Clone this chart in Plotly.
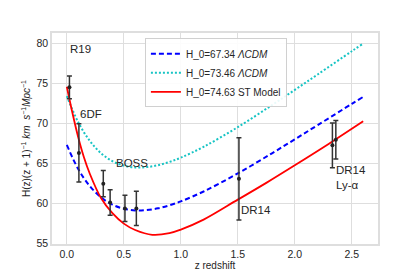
import plotly.graph_objects as go

# model curves
z_lcdm = [0.0, 0.1, 0.2, 0.3, 0.4, 0.5, 0.6, 0.7, 0.8, 0.9, 1.0, 1.2, 1.5, 1.8, 2.0, 2.2, 2.5, 2.6]
h_lcdm_67 = [67.34, 64.33, 62.22, 60.79, 59.87, 59.36, 59.15, 59.19, 59.41, 59.79, 60.28,
             61.52, 63.78, 66.30, 68.05, 69.82, 72.48, 73.36]
h_lcdm_73 = [73.46, 70.18, 67.88, 66.31, 65.31, 64.76, 64.53, 64.57, 64.81, 65.22, 65.75,
             67.11, 69.57, 72.33, 74.23, 76.16, 79.07, 80.03]

z_st = [0.0, 0.05, 0.1, 0.15, 0.2, 0.3, 0.4, 0.5, 0.6, 0.75, 0.9, 1.0, 1.2, 1.5, 1.75, 2.0, 2.3, 2.6]
h_st = [74.63, 71.3, 68.3, 65.8, 63.8, 60.7, 58.8, 57.5, 56.7, 56.1, 56.3, 56.75, 58.0,
        60.5, 62.6, 64.8, 67.5, 70.3]

# observational data
z_obs = [0.023, 0.106, 0.32, 0.38, 0.51, 0.61, 1.51, 2.33, 2.36]
h_obs = [74.55, 66.35, 62.5, 60.15, 59.4, 59.4, 63.1, 67.3, 68.0]
h_err = [1.42, 3.65, 1.65, 1.6, 1.65, 2.15, 5.15, 2.8, 2.4]

labels = ["R19", "6DF", "BOSS", "DR14", "DR14<br>Ly-α"]
label_x = [0.023, 0.103, 0.42, 1.52, 2.357]
label_y = [79.4, 71.2, 65.1, 59.2, 63.3]

FONT = "Liberation Sans, Arial, sans-serif"
TXT = "#262626"
GRID = "#dedede"

fig = go.Figure()
fig.add_trace(go.Scatter(x=z_lcdm, y=h_lcdm_67, mode="lines", line_shape="spline",
                         line=dict(color="#0000ff", width=2, dash="5px,3px"),
                         name="H_0=67.34 <i>ΛCDM</i>"))
fig.add_trace(go.Scatter(x=z_lcdm, y=h_lcdm_73, mode="lines", line_shape="spline",
                         line=dict(color="#17c4c4", width=2, dash="2px,2px"),
                         name="H_0=73.46 <i>ΛCDM</i>"))
fig.add_trace(go.Scatter(x=z_st, y=h_st, mode="lines", line_shape="spline",
                         line=dict(color="#ff0000", width=1.8),
                         name="H_0=74.63 ST Model"))
fig.add_trace(go.Scatter(x=z_obs, y=h_obs, mode="markers",
                         marker=dict(color="#222222", size=4),
                         error_y=dict(type="data", array=h_err, color="#333333",
                                      thickness=1.5, width=2.5),
                         showlegend=False))

for t, x, y in zip(labels, label_x, label_y):
    fig.add_annotation(x=x, y=y, text=t, showarrow=False, xanchor="left",
                       yanchor="middle", align="left", borderpad=0,
                       font=dict(family=FONT, size=11.5, color=TXT))

axis_common = dict(showgrid=True, gridcolor=GRID, gridwidth=1.2, zeroline=False,
                   showline=True, linecolor=GRID, linewidth=1.5, mirror=True,
                   ticks="", automargin=False,
                   tickfont=dict(family=FONT, size=10.5, color=TXT))

fig.update_xaxes(range=[-0.13, 2.73], tickvals=[0, 0.5, 1.0, 1.5, 2.0, 2.5],
                 ticktext=["0.0", "0.5", "1.0", "1.5", "2.0", "2.5"],
                 title=dict(text="z redshift", font=dict(family=FONT, size=10, color=TXT),
                            standoff=0),
                 **axis_common)
fig.update_yaxes(range=[54.95, 81.35], tickvals=[55, 60, 65, 70, 75, 80],
                 title=dict(text="H(z)(z + 1)<sup>−1</sup> <i>km</i>  <i>s</i><sup>−1</sup><i>Mpc</i><sup>−1</sup>",
                            font=dict(family=FONT, size=10, color=TXT), standoff=4),
                 **axis_common)

fig.update_layout(
    width=420, height=280,
    margin=dict(l=44, r=50, t=25, b=44),
    paper_bgcolor="white", plot_bgcolor="white",
    font=dict(family=FONT, color=TXT),
    legend=dict(x=0.285, y=0.975, xanchor="left", yanchor="top",
                bgcolor="rgba(255,255,255,0.9)", bordercolor="#d0d0d0", borderwidth=1,
                font=dict(family=FONT, size=10, color=TXT),
                itemwidth=30, tracegroupgap=0),
)

fig.write_html("out.html")
